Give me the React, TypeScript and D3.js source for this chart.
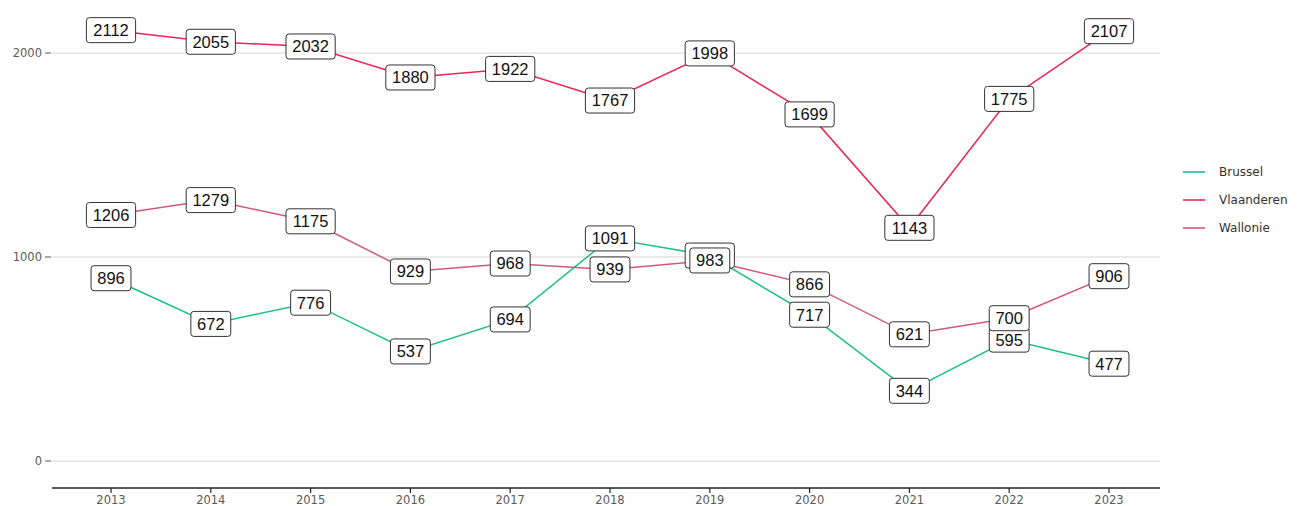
import React from 'react';
import * as d3 from 'd3';

const years = [2013, 2014, 2015, 2016, 2017, 2018, 2019, 2020, 2021, 2022, 2023];
const brussel = [896, 672, 776, 537, 694, 1091, 1007, 717, 344, 595, 477];
const vlaanderen = [2112, 2055, 2032, 1880, 1922, 1767, 1998, 1699, 1143, 1775, 2107];
const wallonie = [1206, 1279, 1175, 929, 968, 939, 983, 866, 621, 700, 906];
const yTicks = [0, 1000, 2000];

const series = [
  { name: 'Brussel', values: brussel, color: '#1fbf8c' },
  { name: 'Vlaanderen', values: vlaanderen, color: '#ea2553' },
  { name: 'Wallonie', values: wallonie, color: '#d5567c' },
];

const W = 1299;
const H = 506;
const smallFont = "'DejaVu Sans', Verdana, sans-serif";

const App = () => {
  // panel spans 52..1160 horizontally
  const x = d3.scaleLinear().domain([2013, 2023]).range([111, 1109]);
  const y = d3.scaleLinear().domain([0, 2000]).range([461, 53]);
  const left = 52;
  const right = 1160;
  const axisY = 488;

  const line = d3.line<[number, number]>()
    .x(d => x(d[0]))
    .y(d => y(d[1]));

  return (
    <div style={{ position: 'fixed', left: 0, top: 0 }}>
      <svg width={W} height={H} style={{ display: 'block', background: '#fff' }}
        fontFamily="'Liberation Sans', Arial, sans-serif">
        {/* grid */}
        {yTicks.map(t => (
          <g key={t}>
            <line x1={left} x2={right} y1={y(t)} y2={y(t)} stroke="#d6d6d6" strokeWidth={1.2} />
            <line x1={45} x2={51} y1={y(t)} y2={y(t)} stroke="#555" strokeWidth={1} />
            <text x={42} y={y(t)} dy="0.36em" textAnchor="end" fontSize={11.5}
              fontFamily={smallFont} fill="#5a5a5a">{t}</text>
          </g>
        ))}

        {/* x axis */}
        <line x1={left} x2={right} y1={axisY} y2={axisY} stroke="#222" strokeWidth={1.6} />
        {years.map(yr => (
          <g key={yr}>
            <line x1={x(yr)} x2={x(yr)} y1={axisY} y2={axisY + 5} stroke="#222" strokeWidth={1.2} />
            <text x={x(yr)} y={axisY + 16} textAnchor="middle" fontSize={11.5}
              fontFamily={smallFont} fill="#5a5a5a">{yr}</text>
          </g>
        ))}

        {/* lines */}
        {series.map(s => (
          <path key={s.name}
            d={line(years.map((yr, i) => [yr, s.values[i]] as [number, number])) || ''}
            fill="none" stroke={s.color} strokeWidth={1.5} />
        ))}

        {/* labels */}
        {series.map(s => (
          <g key={s.name}>
            {years.map((yr, i) => {
              const v = s.values[i];
              const txt = String(v);
              const bw = txt.length * 9.3 + 12;
              const bh = 25;
              const cx = x(yr);
              const cy = y(v);
              return (
                <g key={yr}>
                  <rect x={cx - bw / 2} y={cy - bh / 2} width={bw} height={bh} rx={3}
                    fill="#fff" stroke="#333" strokeWidth={1} />
                  <text x={cx} y={cy} dy="0.36em" textAnchor="middle" fontSize={16.5} fill="#111">{txt}</text>
                </g>
              );
            })}
          </g>
        ))}

        {/* legend */}
        {series.map((s, i) => (
          <g key={s.name} transform={`translate(1183,${172 + i * 28})`}>
            <line x1={0} x2={22} y1={0} y2={0} stroke={s.color} strokeWidth={1.6} />
            <text x={36} y={0} dy="0.36em" fontSize={12} fontFamily={smallFont} fill="#333">{s.name}</text>
          </g>
        ))}
      </svg>
    </div>
  );
};

export default App;
